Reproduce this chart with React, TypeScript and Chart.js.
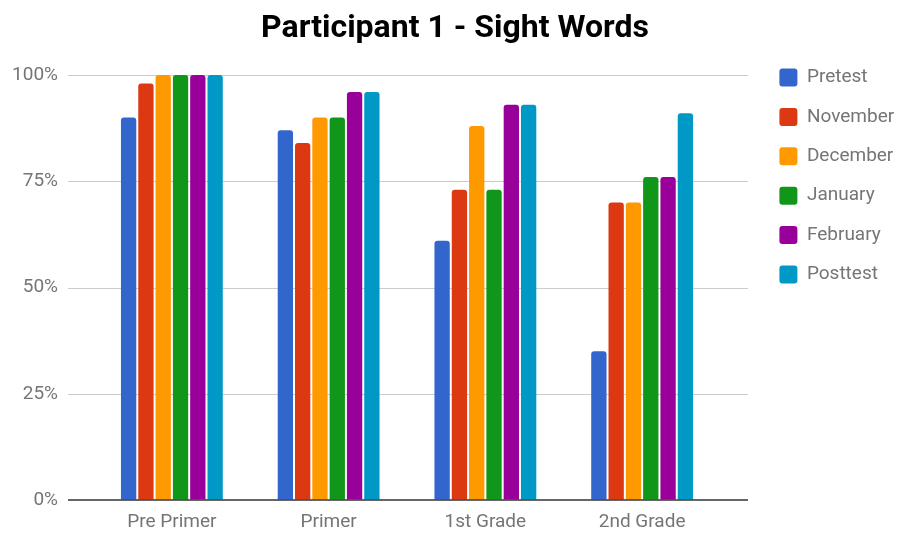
import React, { useEffect, useRef } from "react";
import { Chart, registerables } from "chart.js";

Chart.register(...registerables);

const categories = ["Pre Primer", "Primer", "1st Grade", "2nd Grade"];
const seriesNames = ["Pretest", "November", "December", "January", "February", "Posttest"];
const pretest = [90, 87, 61, 35];
const november = [98, 84, 73, 70];
const december = [100, 90, 88, 70];
const january = [100, 90, 73, 76];
const february = [100, 96, 93, 76];
const posttest = [100, 96, 93, 91];
const seriesColors = ["#3366cc", "#dc3912", "#ff9900", "#109618", "#990099", "#0099c6"];
const yTickValues = [0, 25, 50, 75, 100];
const yTickLabels = ["0%", "25%", "50%", "75%", "100%"];
const titleText = "Participant 1 - Sight Words";

const seriesValues = [pretest, november, december, january, february, posttest];

const FONT = "Roboto, 'Noto Sans', sans-serif";
const TEXT_GREY = "#757575";

const gridPlugin = {
  id: "wideGrid",
  beforeDatasetsDraw(chart: any) {
    const { ctx, chartArea, scales } = chart;
    const y = scales.y;
    const x0 = chartArea.left - 25.5;
    const x1 = chartArea.right + 27.5;
    ctx.save();
    ctx.lineWidth = 1;
    ctx.strokeStyle = "#cccccc";
    yTickValues.forEach((v) => {
      if (v === 0) return;
      const py = Math.round(y.getPixelForValue(v)) + 0.5;
      ctx.beginPath();
      ctx.moveTo(x0, py);
      ctx.lineTo(x1, py);
      ctx.stroke();
    });
    ctx.restore();
  },
  afterDatasetsDraw(chart: any) {
    const { ctx, chartArea, scales } = chart;
    const y = scales.y;
    const x0 = chartArea.left - 25.5;
    const x1 = chartArea.right + 27.5;
    ctx.save();
    ctx.lineWidth = 1.5;
    ctx.strokeStyle = "#333333";
    const py = y.getPixelForValue(0);
    ctx.beginPath();
    ctx.moveTo(x0, py);
    ctx.lineTo(x1, py);
    ctx.stroke();
    ctx.restore();
  },
};

export default function App() {
  const canvasRef = useRef<HTMLCanvasElement | null>(null);

  useEffect(() => {
    if (!canvasRef.current) return;
    const chart = new Chart(canvasRef.current, {
      type: "bar",
      data: {
        labels: categories,
        datasets: seriesNames.map((name, i) => ({
          label: name,
          data: seriesValues[i],
          backgroundColor: seriesColors[i],
          borderWidth: 0,
          borderRadius: { topLeft: 3, topRight: 3, bottomLeft: 0, bottomRight: 0 },
          borderSkipped: false,
          categoryPercentage: 0.6624,
          barPercentage: 0.885,
          yAxisID: "y",
        })),
      },
      options: {
        animation: false,
        responsive: false,
        maintainAspectRatio: false,
        layout: { padding: { left: 10, right: 0, top: 0, bottom: 0 } },
        scales: {
          x: {
            type: "category",
            grid: { display: false, drawTicks: false },
            border: { display: false },
            ticks: {
              color: TEXT_GREY,
              font: { family: FONT, size: 19 },
              padding: 11,
              maxRotation: 0,
              autoSkip: false,
            },
            afterFit: (s: any) => {
              s.height = 33;
            },
          },
          y: {
            type: "linear",
            position: "left",
            min: 0,
            max: 100,
            afterBuildTicks: (s: any) => {
              s.ticks = yTickValues.map((v) => ({ value: v }));
            },
            grid: {
              display: true,
              color: "rgba(0,0,0,0)",
              drawOnChartArea: false,
              drawTicks: true,
              tickLength: 35.5,
            },
            border: { display: false },
            ticks: {
              color: TEXT_GREY,
              font: { family: FONT, size: 19 },
              padding: 0,
              callback: (v: any) => {
                const idx = yTickValues.indexOf(Number(v));
                return idx >= 0 ? yTickLabels[idx] : "";
              },
            },
            afterFit: (s: any) => {
              s.width = 83.5;
            },
          },
          yR: {
            type: "linear",
            position: "right",
            display: true,
            grid: { display: false, drawTicks: false },
            border: { display: false },
            ticks: { display: false },
            afterFit: (s: any) => {
              s.width = 38.5;
            },
          },
        },
        plugins: {
          title: {
            display: true,
            text: titleText,
            color: "#000000",
            font: { family: FONT, size: 32, weight: "bold", lineHeight: 1.2 },
            padding: { top: 10, bottom: 26.6 },
          },
          legend: {
            display: true,
            position: "right",
            align: "start",
            maxWidth: 141,
            title: {
              display: true,
              text: " ",
              font: { family: FONT, size: 10, lineHeight: 1 },
              padding: { top: 37.6, bottom: 0 },
            },
            labels: {
              color: TEXT_GREY,
              font: { family: FONT, size: 19 },
              boxWidth: 18,
              boxHeight: 18,
              padding: 20.4,
              useBorderRadius: true,
              borderRadius: 3,
            },
          },
          tooltip: { enabled: false },
        },
      },
      plugins: [gridPlugin],
    } as any);
    return () => chart.destroy();
  }, []);

  return (
    <div style={{ position: "fixed", left: 0, top: 0, width: 900, height: 533, background: "#ffffff" }}>
      <canvas ref={canvasRef} width={900} height={533} style={{ width: 900, height: 533, display: "block" }} />
    </div>
  );
}
